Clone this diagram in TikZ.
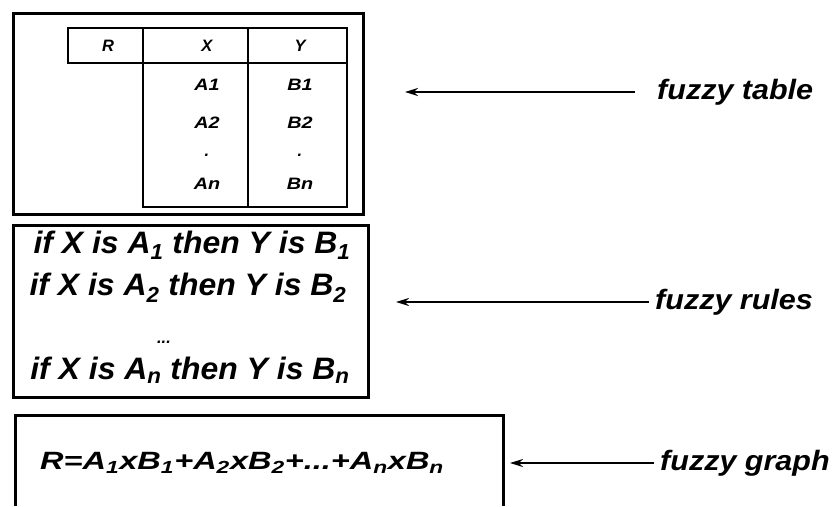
\documentclass[tikz,border=0pt]{standalone}
\usepackage{fontspec}
\usepackage{graphicx}
\setmainfont{Liberation Sans}
\usetikzlibrary{arrows.meta}
\newcommand{\wtxt}[2][1.03]{\scalebox{#1}[1]{#2}}
\tikzset{
  frame/.style={line width=3pt, line join=miter},
  tframe/.style={line width=2.6pt},
  txt/.style={inner sep=0pt, font=\fontsize{31}{34}\selectfont\bfseries\itshape},
  ftxt/.style={inner sep=0pt, font=\fontsize{25}{28}\selectfont\bfseries\itshape},
  ttxt/.style={inner sep=0pt, font=\fontsize{16.5}{18}\selectfont\bfseries\itshape},
  lbl/.style={inner sep=0pt, anchor=west, font=\fontsize{28}{30}\selectfont\bfseries\itshape},
  pointer/.style={line width=2.2pt, -{Stealth[length=13pt,width=8pt]}}
}
\begin{document}
\begin{tikzpicture}[x=1pt,y=-1pt]
\useasboundingbox (0,0) rectangle (835,506);
% box 1: fuzzy table
\draw[frame] (13,13) rectangle (363,214);
\draw[tframe] (68,28) rectangle (347,63);
\draw[tframe] (143,63) rectangle (347,207);
\draw[tframe] (143,28) -- (143,63);
\draw[tframe] (248,28) -- (248,207);
\node[ttxt] (hR) at (108,46) {R};
\node[ttxt] (hX) at (207,46) {X};
\node[ttxt] (hY) at (300,46) {Y};
\node[ttxt] (a1) at (207,85) {\wtxt[1.2]{A1}};
\node[ttxt] (b1) at (300,85) {\wtxt[1.2]{B1}};
\node[ttxt] (a2) at (207,123) {\wtxt[1.2]{A2}};
\node[ttxt] (b2) at (300,123) {\wtxt[1.2]{B2}};
\node[ttxt] (ad) at (207,155) {.};
\node[ttxt] (bd) at (300,155) {.};
\node[ttxt] (an) at (207,184) {\wtxt[1.2]{An}};
\node[ttxt] (bn) at (300,184) {\wtxt[1.2]{Bn}};
% box 2: fuzzy rules
\draw[frame] (13,225) rectangle (368,397);
\node[txt] (r1) at (192,245) {\wtxt{if X is A\textsubscript{1} then Y is B\textsubscript{1}}};
\node[txt] (r2) at (188,288) {\wtxt{if X is A\textsubscript{2} then Y is B\textsubscript{2}}};
\node[ttxt] (rd) at (164,342) {...};
\node[txt] (rn) at (190,370) {\wtxt{if X is A\textsubscript{n} then Y is B\textsubscript{n}}};
% box 3: fuzzy graph (open at bottom)
\draw[frame] (15,506) -- (15,415) -- (503,415) -- (503,506);
\node[ftxt, anchor=west] (f) at (40,463) {\wtxt[1.3]{R=A\textsubscript{1}xB\textsubscript{1}+A\textsubscript{2}xB\textsubscript{2}+...+A\textsubscript{n}xB\textsubscript{n}}};
% labels and pointers
\node[lbl] (lt) at (657,92) {\wtxt[1.09]{fuzzy table}};
\node[lbl] (lr) at (655,302) {\wtxt[1.09]{fuzzy rules}};
\node[lbl] (lg) at (660,463) {\wtxt[1.09]{fuzzy graph}};
\coordinate (pt) at (405,92);
\coordinate (pr) at (396,302);
\coordinate (pg) at (510,463);
\draw[pointer] (635,92) -- (pt);
\draw[pointer] (lr.west) ++(-6,0) -- (pr);
\draw[pointer] (lg.west) ++(-6,0) -- (pg);
\end{tikzpicture}
\end{document}
